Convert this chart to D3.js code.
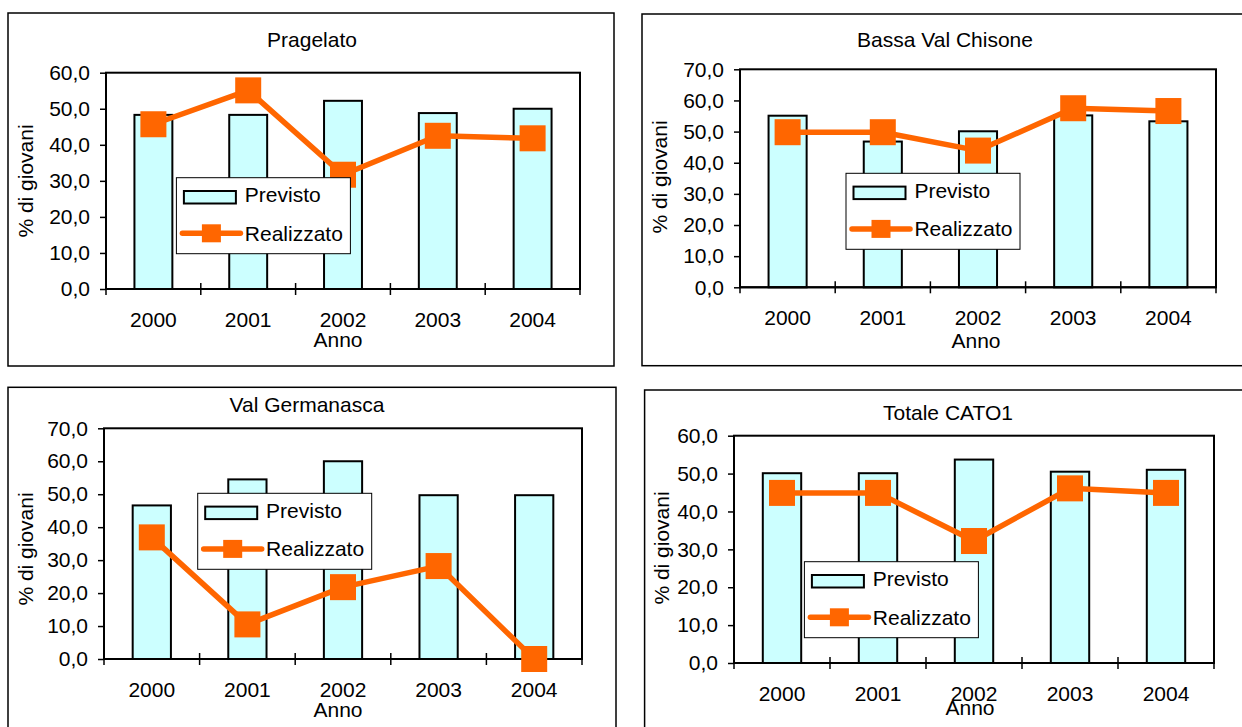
<!DOCTYPE html>
<html>
<head>
<meta charset="utf-8">
<script src="https://cdn.jsdelivr.net/npm/d3@7"></script>
<style>
  html, body { margin: 0; padding: 0; background: #fff; }
  svg { display: block; }
  text { font-family: 'Liberation Sans', Arial, sans-serif; fill: #000; }
</style>
</head>
<body>
<svg id="chart" width="1242" height="727"></svg>
<script>
/* values (% di giovani) */
const years = ['2000', '2001', '2002', '2003', '2004'];

const pragelatoPrevisto    = [48.3, 48.3, 52.2, 48.8, 50.0];
const pragelatoRealizzato  = [45.7, 55.1, 31.7, 42.5, 41.8];

const bassaPrevisto        = [55.1, 46.8, 50.1, 55.2, 53.3];
const bassaRealizzato      = [49.8, 49.8, 43.9, 57.5, 56.6];

const germanascaPrevisto   = [46.6, 54.5, 60.0, 49.7, 49.7];
const germanascaRealizzato = [36.9, 10.5, 21.8, 28.2, 0.0];

const totalePrevisto       = [50.1, 50.1, 53.7, 50.5, 51.0];
const totaleRealizzato     = [44.9, 44.9, 32.2, 46.1, 44.9];

const yMaxes = [60, 70, 70, 60];
const legendLabels = ['Previsto', 'Realizzato'];

const ORANGE = '#FF6600';
const CYAN = '#CCFFFF';
const FS = 21;

/* layout of each panel (pixels) */
const panels = [
  { title: 'Pragelato', prev: pragelatoPrevisto, real: pragelatoRealizzato, yMax: yMaxes[0],
    box: [8, 13, 614, 366], plot: [106, 72.7, 580, 289],
    titleX: 312, titleY: 47, ylabX: 33, ylabY: 181, annoX: 338, annoY: 347, leg: [176.4, 177.7] },
  { title: 'Bassa Val Chisone', prev: bassaPrevisto, real: bassaRealizzato, yMax: yMaxes[1],
    box: [642, 14, 1246, 365.7], plot: [740, 69.3, 1216, 287.3],
    titleX: 945, titleY: 47, ylabX: 667, ylabY: 177, annoX: 976, annoY: 348, leg: [846, 173.3] },
  { title: 'Val Germanasca', prev: germanascaPrevisto, real: germanascaRealizzato, yMax: yMaxes[2],
    box: [8, 387.3, 616, 732], plot: [104, 428.3, 582, 659],
    titleX: 307, titleY: 412, ylabX: 33, ylabY: 549, annoX: 338, annoY: 717, leg: [197.7, 493.3] },
  { title: 'Totale CATO1', prev: totalePrevisto, real: totaleRealizzato, yMax: yMaxes[3],
    box: [644.6, 390, 1246, 732], plot: [734, 435.7, 1214, 663],
    titleX: 948, titleY: 420, ylabX: 669, ylabY: 548, annoX: 970, annoY: 715, leg: [804.4, 561.7] }
];

const svg = d3.select('#chart');
const fmt = v => d3.format('.1f')(v).replace('.', ',');

function drawPanel(p) {
  const [bx0, by0, bx1, by1] = p.box;
  const [px0, py0, px1, py1] = p.plot;
  const w = px1 - px0, h = py1 - py0;

  /* outer frame */
  svg.append('rect')
    .attr('x', bx0).attr('y', by0).attr('width', bx1 - bx0).attr('height', by1 - by0)
    .attr('fill', '#fff').attr('stroke', '#000').attr('stroke-width', 1.5);

  svg.append('text')
    .attr('x', p.titleX).attr('y', p.titleY)
    .attr('text-anchor', 'middle').attr('font-size', FS).text(p.title);

  const g = svg.append('g').attr('transform', `translate(${px0},${py0})`);

  const x = d3.scaleBand().domain(years).range([0, w])
    .paddingInner(0.6).paddingOuter(0.3);
  const xb = d3.scaleLinear().domain([0, years.length]).range([0, w]);
  const y = d3.scaleLinear().domain([0, p.yMax]).range([h, 0]);

  /* bars */
  g.selectAll('.bar').data(p.prev).join('rect')
    .attr('class', 'bar')
    .attr('x', (d, i) => x(years[i])).attr('width', x.bandwidth())
    .attr('y', d => y(d)).attr('height', d => h - y(d))
    .attr('fill', CYAN).attr('stroke', '#000').attr('stroke-width', 2);

  /* plot frame */
  g.append('rect').attr('width', w).attr('height', h)
    .attr('fill', 'none').attr('stroke', '#000').attr('stroke-width', 2);

  /* y axis */
  const ya = g.append('g')
    .call(d3.axisLeft(y).tickValues(d3.range(0, p.yMax + 1, 10)).tickSize(6).tickPadding(10).tickFormat(fmt));
  ya.select('.domain').remove();
  ya.selectAll('line').attr('stroke', '#000').attr('stroke-width', 1.5);
  ya.selectAll('text').attr('font-size', FS)
    .attr('font-family', "'Liberation Sans', Arial, sans-serif").attr('fill', '#000');

  /* x axis: cross ticks at category boundaries */
  g.selectAll('.xt').data(d3.range(years.length + 1)).join('line')
    .attr('class', 'xt')
    .attr('x1', d => xb(d)).attr('x2', d => xb(d))
    .attr('y1', h - 6).attr('y2', h + 6)
    .attr('stroke', '#000').attr('stroke-width', 1.5);
  g.append('line').attr('x1', 0).attr('x2', w).attr('y1', h).attr('y2', h)
    .attr('stroke', '#000').attr('stroke-width', 2);

  g.selectAll('.xl').data(years).join('text')
    .attr('class', 'xl')
    .attr('x', d => x(d) + x.bandwidth() / 2).attr('y', h + 38)
    .attr('text-anchor', 'middle').attr('font-size', FS).text(d => d);

  svg.append('text')
    .attr('x', p.annoX).attr('y', p.annoY)
    .attr('text-anchor', 'middle').attr('font-size', FS).text('Anno');

  svg.append('text')
    .attr('transform', `translate(${p.ylabX},${p.ylabY}) rotate(-90)`)
    .attr('text-anchor', 'middle').attr('font-size', FS).text('% di giovani');

  /* realised line + square markers */
  const line = d3.line()
    .x((d, i) => x(years[i]) + x.bandwidth() / 2)
    .y(d => y(d));
  g.append('path').datum(p.real)
    .attr('fill', 'none').attr('stroke', ORANGE).attr('stroke-width', 5.5)
    .attr('stroke-linejoin', 'round').attr('d', line);

  const ms = 26;
  g.selectAll('.mk').data(p.real).join('rect')
    .attr('class', 'mk')
    .attr('x', (d, i) => x(years[i]) + x.bandwidth() / 2 - ms / 2)
    .attr('y', d => y(d) - ms / 2)
    .attr('width', ms).attr('height', ms).attr('fill', ORANGE);

  /* legend */
  const leg = svg.append('g').attr('transform', `translate(${p.leg[0]},${p.leg[1]})`);
  leg.append('rect').attr('width', 174).attr('height', 76)
    .attr('fill', '#fff').attr('stroke', '#000').attr('stroke-width', 1);
  leg.append('rect').attr('x', 7.5).attr('y', 13.3).attr('width', 52).attr('height', 12.5)
    .attr('fill', CYAN).attr('stroke', '#000').attr('stroke-width', 2);
  leg.append('line').attr('x1', 6).attr('x2', 64).attr('y1', 55.6).attr('y2', 55.6)
    .attr('stroke', ORANGE).attr('stroke-width', 5.5).attr('stroke-linecap', 'round');
  leg.append('rect').attr('x', 35 - 9.5).attr('y', 55.6 - 9).attr('width', 19).attr('height', 18)
    .attr('fill', ORANGE);
  legendLabels.forEach((t, i) => {
    leg.append('text').attr('x', 68.4).attr('y', i ? 63 : 24.8)
      .attr('font-size', FS).text(t);
  });
}

panels.forEach(drawPanel);
</script>
</body>
</html>
